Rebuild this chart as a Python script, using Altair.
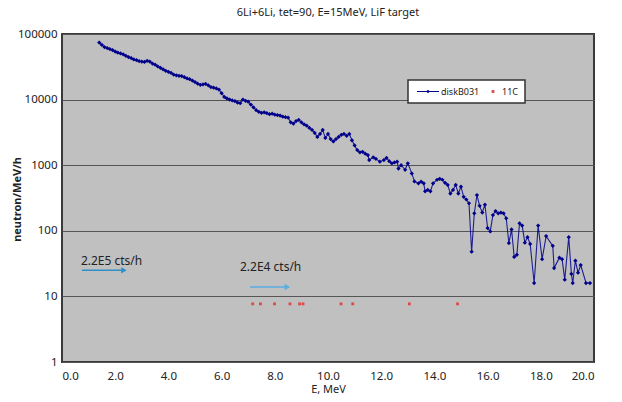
import altair as alt
import pandas as pd

# ---- data ----
energy = [1.4, 1.5, 1.6, 1.7, 1.8, 1.9, 2.0, 2.1, 2.2, 2.3, 2.4, 2.5, 2.6, 2.7, 2.8, 2.9,
          3.0, 3.1, 3.2, 3.3, 3.4, 3.5, 3.6, 3.7, 3.8, 3.9, 4.0, 4.1, 4.2, 4.3, 4.4, 4.5,
          4.6, 4.7, 4.8, 4.9, 5.0, 5.1, 5.2, 5.3, 5.4, 5.5, 5.6, 5.7, 5.8, 5.9, 6.0, 6.1,
          6.2, 6.3, 6.4, 6.5, 6.6, 6.7, 6.8, 6.9, 7.0, 7.1, 7.2, 7.3, 7.4, 7.5, 7.6, 7.7,
          7.8, 7.9, 8.0, 8.1, 8.2, 8.3, 8.4, 8.5, 8.6, 8.7, 8.8, 8.9, 9.0, 9.1, 9.2, 9.3,
          9.4, 9.5, 9.6, 9.7, 9.8, 9.9, 10.0, 10.1, 10.2, 10.3, 10.4, 10.5, 10.6, 10.7,
          10.8, 10.9, 11.0, 11.1, 11.2, 11.3, 11.4, 11.5, 11.55, 11.7, 11.8, 11.95, 12.1,
          12.2, 12.3, 12.4, 12.5, 12.6, 12.65, 12.75, 12.9, 13.0, 13.15, 13.25, 13.4, 13.5,
          13.6, 13.65, 13.75, 13.85, 13.95, 14.1, 14.2, 14.3, 14.4, 14.5, 14.6, 14.7, 14.8,
          14.9, 15.0, 15.1, 15.2, 15.3, 15.4, 15.5, 15.6, 15.7, 15.8, 15.9, 16.0, 16.1,
          16.2, 16.3, 16.4, 16.5, 16.6, 16.7, 16.8, 16.9, 17.0, 17.1, 17.2, 17.3, 17.4,
          17.5, 17.6, 17.75, 17.9, 18.05, 18.2, 18.45, 18.5, 18.7, 18.8, 18.9, 19.05, 19.15,
          19.2, 19.3, 19.4, 19.5, 19.7, 19.85]
neutrons = [74000, 68000, 63000, 61000, 59000, 57000, 54000, 52000, 50500, 49000, 46500,
            44500, 43000, 41000, 40000, 38500, 38000, 37500, 39000, 38000, 35500, 34000,
            32000, 30500, 29000, 27500, 26500, 25500, 24000, 23500, 23000, 22800, 22000,
            21000, 20500, 19500, 18500, 17500, 16800, 17000, 17300, 16500, 15500, 15200,
            14800, 14200, 12500, 11000, 10400, 10000, 9700, 9500, 9000, 8800, 10000, 9600,
            9300, 8400, 7600, 6900, 6500, 6300, 6400, 6200, 6000, 6100, 5900, 5800, 5700,
            5500, 5400, 5300, 4500, 4300, 4700, 4900, 4500, 4200, 4000, 3700, 3450, 3100,
            2700, 3000, 3450, 2600, 3000, 2500, 2300, 2500, 2700, 2900, 3000, 2800, 3000,
            2400, 2000, 1700, 1570, 1600, 1500, 1430, 1200, 1320, 1250, 1130, 1200, 1290,
            1150, 1070, 1100, 1130, 890, 1000, 850, 1070, 750, 565, 530, 560, 530, 400, 420,
            400, 530, 600, 620, 600, 540, 500, 370, 420, 500, 370, 470, 330, 300, 263, 48,
            185, 350, 240, 190, 250, 110, 98, 174, 200, 185, 190, 185, 155, 65, 105, 40, 43,
            130, 120, 66, 80, 63, 16, 120, 37, 83, 59, 27, 39, 37, 18, 80, 22, 16, 35, 23,
            30, 16, 16]
c11_energy = [7.17, 7.46, 7.99, 8.57, 8.93, 9.06, 10.49, 10.93, 13.06, 14.87]
c11_counts = [7.7, 7.7, 7.7, 7.7, 7.7, 7.7, 7.7, 7.7, 7.7, 7.7]

x_ticks = [0, 2, 4, 6, 8, 10, 12, 14, 16, 18, 20]
y_ticks = [1, 10, 100, 1000, 10000, 100000]

notes = ["2.2E5 cts/h", "2.2E4 cts/h"]
note_e = [0.71, 6.69]
note_v = [35, 28]
arrow_e1 = [0.75, 7.07]
arrow_e2 = [2.33, 8.47]
arrow_v = [25, 13.9]
arrow_col = ["#2f8fc8", "#58aee0"]

FONT = "Noto Sans"
NAVY = "#00008b"
RED = "#e04848"

main = pd.DataFrame({"E": energy, "N": neutrons})
c11 = pd.DataFrame({"E": c11_energy, "N": c11_counts})
ann = pd.DataFrame({"t": notes, "E": note_e, "N": note_v})
arr = pd.DataFrame({"E1": arrow_e1, "E2": arrow_e2, "N": arrow_v, "c": arrow_col})

xs = alt.Scale(domain=[0, 20], nice=False)
ys = alt.Scale(type="log", domain=[1, 100000], nice=False)

xaxis = alt.Axis(values=x_ticks, format=".1f", grid=False, title="E, MeV",
                 labelPadding=8, titlePadding=2, labelFontSize=11.5, titleFontSize=11,
                 titleFontWeight="normal", titleBaseline="top")
yaxis = alt.Axis(values=y_ticks, format="d", grid=True, gridColor="#555555", gridWidth=1.2,
                 title="neutron/MeV/h", labelPadding=5, titleX=-40, titleY=165,
                 labelFontSize=11.5, titleFontSize=11, titleFontWeight="bold")

line = alt.Chart(main).mark_line(color=NAVY, strokeWidth=1.1, opacity=0.85).encode(
    x=alt.X("E:Q", scale=xs, axis=xaxis),
    y=alt.Y("N:Q", scale=ys, axis=yaxis),
)
pts = alt.Chart(main).mark_point(shape="diamond", filled=True, color=NAVY, size=18, opacity=1).encode(
    x=alt.X("E:Q", scale=xs), y=alt.Y("N:Q", scale=ys)
)
c11pts = alt.Chart(c11).mark_point(shape="square", filled=True, color=RED, size=8, opacity=1).encode(
    x=alt.X("E:Q", scale=xs), y=alt.Y("N:Q", scale=ys)
)
ann_text = alt.Chart(ann).mark_text(align="left", baseline="middle", font=FONT, fontSize=12,
                                    color="#222222").encode(
    x=alt.X("E:Q", scale=xs), y=alt.Y("N:Q", scale=ys), text="t:N"
)
arr_line = alt.Chart(arr).mark_rule(strokeWidth=1.6).encode(
    x=alt.X("E1:Q", scale=xs), x2="E2:Q", y=alt.Y("N:Q", scale=ys),
    color=alt.Color("c:N", scale=None)
)
arr_head = alt.Chart(arr).mark_point(shape="triangle-right", filled=True, size=40, opacity=1).encode(
    x=alt.X("E2:Q", scale=xs), y=alt.Y("N:Q", scale=ys),
    color=alt.Color("c:N", scale=None)
)

one = pd.DataFrame({"a": [0]})
leg_box = alt.Chart(one).mark_rect(fill="white", stroke="#333333", strokeWidth=1.5).encode(
    x=alt.value(346), x2=alt.value(463), y=alt.value(46), y2=alt.value(69)
)
leg_line = alt.Chart(one).mark_rule(color=NAVY, strokeWidth=1).encode(
    x=alt.value(355), x2=alt.value(377), y=alt.value(57.5)
)
leg_dia = alt.Chart(one).mark_point(shape="diamond", filled=True, color=NAVY, size=14, opacity=1).encode(
    x=alt.value(366), y=alt.value(57.5)
)
leg_t1 = alt.Chart(one).mark_text(align="left", baseline="middle", font=FONT, fontSize=9,
                                   color="#222222").encode(
    x=alt.value(379), y=alt.value(57.5), text=alt.value("diskB031")
)
leg_sq = alt.Chart(one).mark_point(shape="square", filled=True, color=RED, size=8, opacity=1).encode(
    x=alt.value(431), y=alt.value(57.5)
)
leg_t2 = alt.Chart(one).mark_text(align="left", baseline="middle", font=FONT, fontSize=9,
                                   color="#222222").encode(
    x=alt.value(440), y=alt.value(57.5), text=alt.value("11C")
)

chart = alt.layer(
    line, pts, c11pts, arr_line, arr_head, ann_text,
    leg_box, leg_line, leg_dia, leg_t1, leg_sq, leg_t2
).properties(
    width=532, height=328,
    autosize=alt.AutoSizeParams(type="none"),
    padding={"left": 62, "top": 34, "right": 28, "bottom": 40},
    title=alt.TitleParams("6Li+6Li, tet=90, E=15MeV, LiF target", font=FONT, fontSize=11,
                          fontWeight="normal", color="#222222", offset=10),
    background="white",
).configure_view(
    fill="#c0c0c0", stroke="#3a3a3a", strokeWidth=2
).configure_axis(
    domain=False, ticks=False, labelFont=FONT, titleFont=FONT,
    labelColor="#222222", titleColor="#222222"
)

chart.save("out.html", embed_options={"renderer": "svg", "actions": False})
